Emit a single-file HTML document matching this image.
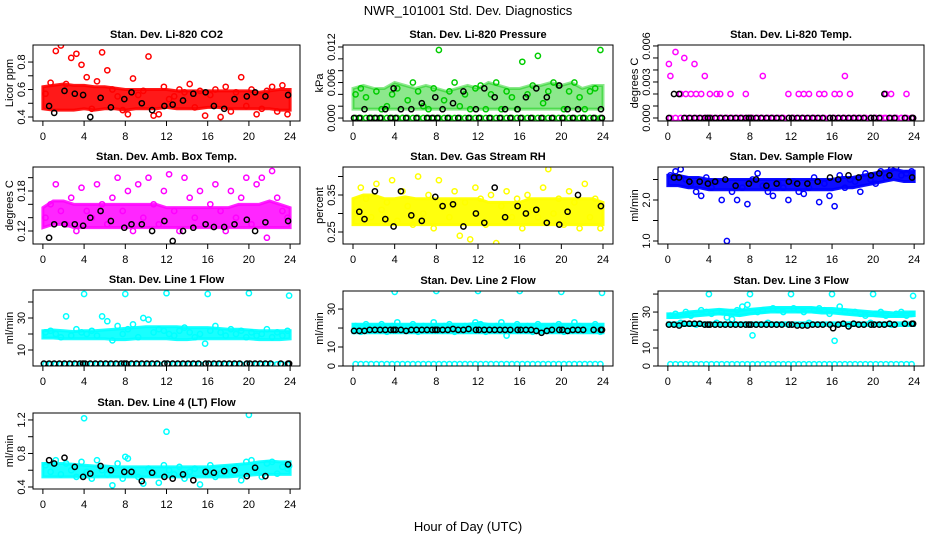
<!DOCTYPE html>
<html><head><meta charset="utf-8"><style>
html,body{margin:0;padding:0;background:#fff}
svg{display:block}
text{font-family:"Liberation Sans",sans-serif;fill:#000}
</style></head><body>
<svg id="chart" width="936" height="540" viewBox="0 0 936 540" xmlns="http://www.w3.org/2000/svg">
<rect x="0" y="0" width="936" height="540" fill="#fff"/>
<text x="468" y="15" font-size="13" text-anchor="middle">NWR_101001  Std. Dev. Diagnostics</text>
<text x="468" y="531" font-size="13" text-anchor="middle">Hour of Day (UTC)</text>
</svg>
<script>
// ---- shared hours ----
const bandHours = [0,1,2,3,4,5,6,7,8,9,10,11,12,13,14,15,16,17,18,19,20,21,22,23,24];
const colorHours = [0.25,0.75,1.25,1.75,2.25,2.75,3.25,3.75,4.25,4.75,5.25,5.75,6.25,6.75,7.25,7.75,8.25,8.75,9.25,9.75,10.25,10.75,11.25,11.75,12.25,12.75,13.25,13.75,14.25,14.75,15.25,15.75,16.25,16.75,17.25,17.75,18.25,18.75,19.25,19.75,20.25,20.75,21.25,21.75,22.25,22.75,23.25,23.75];
const blackHours = [0.6,1.1,2.1,3.1,3.9,4.6,5.6,6.6,7.9,8.6,9.6,10.6,11.8,12.6,13.6,14.6,15.8,16.6,17.6,18.6,19.8,20.6,21.6,23.8];
const blackHours2 = [0.1,1.6,2.6,3.6,4.1,5.1,6.1,7.1,7.6,8.1,9.1,10.1,11.1,12.1,13.1,14.1,15.1,16.1,17.1,18.1,19.1,20.1,21.1,22.1,23.1,23.9];
const outlierHours = [4,8,12,16,20,23.9];

// ---- CO2 ----
const co2BandLo = [0.46,0.45,0.45,0.45,0.46,0.45,0.46,0.46,0.45,0.46,0.46,0.46,0.47,0.46,0.46,0.46,0.47,0.47,0.46,0.46,0.46,0.46,0.46,0.45,0.45];
const co2BandHi = [0.62,0.63,0.64,0.63,0.63,0.62,0.62,0.61,0.6,0.6,0.6,0.6,0.6,0.59,0.59,0.59,0.59,0.59,0.59,0.59,0.59,0.58,0.59,0.6,0.6];
const co2Color = [0.57,0.65,0.88,0.92,0.64,0.83,0.86,0.78,0.69,0.46,0.66,0.87,0.74,0.60,0.55,0.45,0.42,0.68,0.56,0.59,0.84,0.41,0.42,0.62,0.53,0.55,0.60,0.58,0.64,0.47,0.59,0.41,0.56,0.60,0.40,0.62,0.44,0.58,0.69,0.48,0.60,0.42,0.46,0.59,0.62,0.44,0.63,0.42];
const co2Black = [0.48,0.43,0.59,0.57,0.56,0.40,0.54,0.47,0.53,0.58,0.50,0.45,0.48,0.49,0.52,0.57,0.58,0.48,0.46,0.53,0.55,0.58,0.55,0.56];

// ---- Pressure ----
const presBandLo = [0.0015,0.0015,0.0015,0.0015,0.0015,0.0015,0.0015,0.0015,0.0015,0.0015,0.0015,0.0015,0.0015,0.0015,0.0015,0.0015,0.0015,0.0015,0.0015,0.0015,0.0015,0.0015,0.0015,0.0015,0.0015];
const presBandHi = [0.005,0.0055,0.005,0.005,0.006,0.0055,0.005,0.0055,0.005,0.0045,0.005,0.0055,0.005,0.006,0.0055,0.005,0.005,0.0055,0.0055,0.006,0.0055,0.006,0.005,0.0055,0.0055];
const presColor = [0.004,0.005,0.0035,0,0.0045,0.0015,0.002,0.004,0.005,0,0.003,0.006,0.0045,0.002,0.0015,0.005,0.0115,0.003,0.0045,0.006,0.002,0.004,0.0015,0.005,0.0055,0.0015,0.004,0.006,0.0015,0.0045,0.0035,0.0015,0.0095,0.004,0.0055,0.0105,0.0025,0.0045,0.006,0.0055,0.0015,0.0045,0.006,0.0035,0.0015,0.0045,0.005,0.0115];
const presZero = [0,0,0,0,0,0,0,0,0,0,0,0,0,0,0,0,0,0,0,0,0,0,0,0,0,0,0,0,0,0,0,0,0,0,0,0,0,0,0,0,0,0,0,0,0,0,0,0];
const presBlack = [0,0.0015,0,0.0015,0.005,0.0015,0.0015,0.0025,0.0035,0.0015,0.0025,0.0045,0.0015,0.005,0.0035,0.0015,0.0015,0.0035,0.005,0.0035,0.0055,0.0015,0.0015,0.0015];
const presBlackZero = [0,0,0,0,0,0,0,0,0,0,0,0,0,0,0,0,0,0,0,0,0,0,0,0,0,0];

// ---- Li-820 Temp ----
const tempColor = [0.0035,0.0055,0.002,0.002,0.002,0.002,0.002,0,0,0.002,0,0,0,0,0,0,0,0,0.0035,0,0,0,0,0.002,0,0.002,0.002,0.002,0,0.002,0.002,0,0.002,0.002,0.0035,0.002,0,0,0,0,0,0,0.002,0.002,0,0,0.002,0];
const tempColor2 = [0.0045,0.005,0.0045,0.0035,0.002,0.002,0.002,0,0.002,0,0,0,0,0,0,0,0,0,0,0,0,0,0,0,0,0,0,0,0,0,0.002,0,0.002,0.002,0.002,0,0,0,0,0,0,0,0.002,0,0,0.002,0,0];
const tempZero = [0,0,0,0,0,0,0,0,0,0,0,0,0,0,0,0,0,0,0,0,0,0,0,0,0,0,0,0,0,0,0,0,0,0,0,0,0,0,0,0,0,0,0,0,0,0,0,0];
const tempBlack = [0.002,0.002,0,0,0,0,0,0,0,0,0,0,0,0,0,0,0,0,0,0,0,0,0,0];
const tempBlackZero = [0,0,0,0,0,0,0,0,0,0,0,0,0,0,0,0,0,0,0,0,0,0,0.002,0,0,0];

// ---- Amb Box Temp ----
const ambBandLo = [0.125,0.13,0.13,0.125,0.125,0.125,0.125,0.125,0.125,0.125,0.125,0.125,0.125,0.125,0.125,0.125,0.125,0.125,0.125,0.125,0.125,0.125,0.125,0.125,0.125];
const ambBandHi = [0.155,0.165,0.165,0.16,0.16,0.16,0.16,0.16,0.16,0.16,0.16,0.16,0.155,0.155,0.155,0.155,0.155,0.155,0.155,0.16,0.16,0.16,0.165,0.16,0.155];
const ambColor = [0.14,0.16,0.19,0.15,0.13,0.17,0.12,0.185,0.15,0.14,0.19,0.16,0.13,0.17,0.2,0.15,0.18,0.12,0.19,0.14,0.2,0.16,0.13,0.18,0.205,0.15,0.12,0.2,0.17,0.14,0.18,0.13,0.16,0.19,0.15,0.12,0.18,0.14,0.17,0.2,0.13,0.19,0.2,0.11,0.21,0.17,0.15,0.14];
const ambBlack = [0.11,0.13,0.13,0.13,0.128,0.14,0.15,0.135,0.125,0.13,0.13,0.12,0.135,0.105,0.12,0.125,0.13,0.126,0.126,0.13,0.137,0.12,0.133,0.135];

// ---- Gas Stream RH ----
const rhBandLo = [0.27,0.27,0.27,0.27,0.27,0.27,0.27,0.27,0.27,0.27,0.27,0.27,0.27,0.27,0.27,0.27,0.27,0.27,0.27,0.27,0.27,0.27,0.27,0.27,0.27];
const rhBandHi = [0.34,0.35,0.35,0.34,0.34,0.345,0.34,0.34,0.34,0.34,0.34,0.34,0.34,0.33,0.33,0.33,0.33,0.34,0.34,0.34,0.34,0.34,0.34,0.34,0.33];
const rhColor = [0.3,0.37,0.34,0.29,0.38,0.31,0.33,0.39,0.28,0.36,0.32,0.27,0.4,0.3,0.35,0.26,0.39,0.33,0.29,0.36,0.24,0.33,0.23,0.37,0.34,0.27,0.35,0.22,0.32,0.36,0.29,0.34,0.26,0.35,0.31,0.29,0.37,0.42,0.3,0.34,0.27,0.36,0.33,0.26,0.38,0.29,0.34,0.26];
const rhBlack = [0.305,0.285,0.36,0.285,0.265,0.36,0.295,0.28,0.345,0.32,0.325,0.265,0.3,0.275,0.37,0.29,0.32,0.3,0.31,0.275,0.27,0.305,0.35,0.32];

// ---- Sample Flow ----
const sfBandLo = [2.35,2.35,2.3,2.3,2.25,2.25,2.25,2.25,2.25,2.25,2.25,2.25,2.25,2.25,2.25,2.25,2.25,2.3,2.3,2.35,2.4,2.45,2.5,2.45,2.45];
const sfBandHi = [2.6,2.6,2.55,2.55,2.5,2.5,2.5,2.5,2.5,2.5,2.5,2.5,2.5,2.5,2.5,2.5,2.5,2.55,2.55,2.6,2.65,2.7,2.75,2.7,2.7];
const sfColor = [2.6,2.7,2.75,2.5,2.4,2.2,2.1,2.55,2.3,2.45,2.0,1.0,2.2,2.0,2.3,1.9,2.5,2.65,2.35,2.2,2.1,2.4,2.3,2.0,2.45,2.2,2.15,2.3,2.55,1.95,2.4,2.1,1.85,2.6,2.3,2.5,2.45,2.2,2.65,2.5,2.4,2.7,2.55,2.75,2.8,2.6,2.65,2.7];
const sfBlack = [2.55,2.55,2.45,2.45,2.4,2.45,2.5,2.35,2.4,2.5,2.35,2.4,2.45,2.4,2.4,2.45,2.55,2.5,2.6,2.55,2.6,2.65,2.6,2.55];

// ---- Line 1 Flow ----
const l1BandLo = [17.5,17.5,17,17,17,17,17,16.5,16.5,17,17,17,17,16.5,16.5,17,17,17,17,17,17,16.5,16.5,16.5,17];
const l1BandHi = [22,22.5,22,21.5,22,22,22.5,23,23.5,24,24.5,24.5,24.5,24.5,24,24,24,23.5,23,23,22.5,22,22,22,22];
const l1Color = [21,22,20,18,31,19,23,21,20,22,19,31,28,16,25,20,23,26,18,30,29,21,23,22,20,19,22,24,21,18,20,14,22,25,21,19,23,20,22,18,21,19,20,23,18,21,19,22];
const l1Low = [1,1,1,1,1,1,1,1,1,1,1,1,1,1,1,1,1,1,1,1,1,1,1,1,1,1,1,1,1,1,1,1,1,1,1,1,1,1,1,1,1,1,1,1,1,1,1,1];
const l1Out = [45,45,45.5,45,45.5,44];
const l1Black = [1.5,1.5,1.5,1.5,1.5,1.5,1.5,1.5,1.5,1.5,1.5,1.5,1.5,1.5,1.5,1.5,1.5,1.5,1.5,1.5,1.5,1.5,1.5,1.5];
const l1Black2 = [1.5,1.5,1.5,1.5,1.5,1.5,1.5,1.5,1.5,1.5,1.5,1.5,1.5,1.5,1.5,1.5,1.5,1.5,1.5,1.5,1.5,1.5,1.5,1.5,1.5,1.5];

// ---- Line 2 Flow ----
const l2BandLo = [17.5,17.5,17.5,17.5,17.5,17.5,17.5,17.5,17.5,17.5,17.5,17.5,17.5,17.5,17.5,17.5,17.5,17.5,17.5,17.5,17.5,17.5,17.5,17.5,17.5];
const l2BandHi = [22,22,22,22,22,22,22,22,22,22,22,22,22.5,22,22,22,22,22,22,22,22,22,22,22,22];
const l2Color = [21,18,22,19,20,22,18,21,23,19,20,22,18,21,20,23,19,21,22,18,20,21,19,23,22,18,20,21,23,16,19,22,20,21,18,22,20,19,21,22,18,20,23,21,19,20,22,18];
const l2Low = [1,1,1,1,1,1,1,1,1,1,1,1,1,1,1,1,1,1,1,1,1,1,1,1,1,1,1,1,1,1,1,1,1,1,1,1,1,1,1,1,1,1,1,1,1,1,1,1];
const l2Out = [39,39.5,39.5,39.5,39,38.5];
const l2Black = [18.5,18.5,19,19,19,19,19,19,19,19,19.5,19,19,19,19,19,19,19,18.5,18.5,19,18.5,19,19];
const l2Black2 = [18.5,19,19,19,19,18.5,19,19,19,19,19,19,19.5,19,19,19,19,19,19,17.5,19,19,19,19,19,19];

// ---- Line 3 Flow ----
const l3BandLo = [27,27,27.5,28,28.5,29,28.5,28,29,29.5,30,30,30,30,30,29.5,29.5,29,28.5,28,28,27.5,27.5,27.5,28];
const l3BandHi = [29,29,30,30.5,31,31.5,31,31,31.5,32,32.5,32.5,32.5,32.5,32.5,32,32,31.5,31,30.5,30,30,29.5,30,30];
const l3MidLo = [22.5,22.5,22.5,22.5,22.5,22.5,22.5,22.5,22.5,22.5,22.5,22.5,22.5,22.5,22.5,22.5,22.5,22.5,22.5,22.5,22.5,22.5,22.5,22.5,22.5];
const l3MidHi = [24,24,24,24,24,24,24,24,24,24,24,24,24,24,24,24,24,24,24,24,24,24,24,24,24];
const l3Color = [28,29,24,30,28,23,31,30,29,24,30,27,26,31,33,34,17,30,31,24,32,31,30,23,32,31,30,24,31,32,31,29,14,33,30,23,30,29,28,24,29,30,28,23,29,30,28,29];
const l3Low = [1,1,1,1,1,1,1,1,1,1,1,1,1,1,1,1,1,1,1,1,1,1,1,1,1,1,1,1,1,1,1,1,1,1,1,1,1,1,1,1,1,1,1,1,1,1,1,1];
const l3Out = [40,40,40,40,40,39];
const l3Black = [23,22.5,23.5,23.5,23,23,23,23,23,23,23,23,23,22.5,22.5,23,23,23,22,23,23,23,23.5,23.5];
const l3Black2 = [23,23.5,23.5,23,23,23,23,23,23,23,23,23,23,23,22.5,23,23,21,23.5,23.5,23,23,23,23,23.5,23.5];

// ---- Line 4 Flow ----
const l4BandLo = [0.52,0.52,0.52,0.52,0.52,0.52,0.52,0.52,0.52,0.52,0.52,0.52,0.52,0.52,0.52,0.52,0.52,0.52,0.52,0.53,0.54,0.55,0.55,0.55,0.55];
const l4BandHi = [0.68,0.68,0.68,0.67,0.66,0.65,0.65,0.64,0.64,0.64,0.64,0.64,0.64,0.64,0.64,0.64,0.64,0.65,0.66,0.67,0.68,0.7,0.71,0.7,0.7];
const l4Color = [0.66,0.58,0.72,0.55,0.68,0.6,0.52,0.7,0.58,0.5,0.72,0.6,0.55,0.42,0.68,0.5,0.74,0.58,0.52,0.44,0.62,0.56,0.45,0.66,0.6,0.55,0.64,0.5,0.58,0.62,0.43,0.6,0.66,0.52,0.56,0.62,0.58,0.64,0.48,0.7,0.72,0.6,0.52,0.68,0.7,0.56,0.64,0.62];
const l4Out = [1.22,0.76,1.06,0.6,1.26,0.65];
const l4Black = [0.72,0.68,0.75,0.64,0.52,0.56,0.65,0.6,0.58,0.58,0.47,0.57,0.52,0.5,0.55,0.48,0.58,0.57,0.59,0.6,0.53,0.63,0.53,0.67];

const GREEN='#00cc00', RED='#ff0000', MAG='#ff00ff', YEL='#ffff00', BLUE='#0000ff', CYAN='#00ffff', BLK='#000000';

const panels = [
 {name:'co2',title:'Stan. Dev. Li-820 CO2',ylab:'Licor ppm',box:[33,45,300,121],ymin:0.371,ymax:0.924,ticks:[0.4,0.5,0.6,0.7,0.8],labels:['0.4','','0.6','','0.8'],
  bands:[[co2BandLo,co2BandHi,RED,0.9]],series:[[colorHours,co2Color,RED],[blackHours,co2Black,BLK]]},
 {name:'pressure',title:'Stan. Dev. Li-820 Pressure',ylab:'kPa',box:[343,45,613,121],ymin:-0.0005,ymax:0.01234,ticks:[0,0.002,0.004,0.006,0.008,0.010,0.012],labels:['0.000','','','0.006','','','0.012'],
  bands:[[presBandLo,presBandHi,GREEN,0.45]],series:[[colorHours,presZero,GREEN],[colorHours,presColor,GREEN],[blackHours2,presBlackZero,BLK],[blackHours,presBlack,BLK]]},
 {name:'licor-temp',title:'Stan. Dev. Li-820 Temp.',ylab:'degrees C',box:[658,45,924,121],ymin:-0.00025,ymax:0.00608,ticks:[0,0.001,0.002,0.003,0.004,0.005,0.006],labels:['0.000','','','0.003','','','0.006'],
  bands:[],series:[[colorHours,tempZero,MAG],[colorHours,tempColor,MAG],[blackHours2,tempColor2,MAG],[blackHours2,tempBlackZero,BLK],[blackHours,tempBlack,BLK]]},
 {name:'amb-box-temp',title:'Stan. Dev. Amb. Box Temp.',ylab:'degrees C',box:[33,167,300,244],ymin:0.1005,ymax:0.216,ticks:[0.12,0.14,0.16,0.18,0.20],labels:['0.12','','','0.18',''],
  bands:[[ambBandLo,ambBandHi,MAG,0.85]],series:[[colorHours,ambColor,MAG],[blackHours,ambBlack,BLK]]},
 {name:'gas-stream-rh',title:'Stan. Dev. Gas Stream RH',ylab:'percent',box:[343,167,613,244],ymin:0.2176,ymax:0.4257,ticks:[0.25,0.30,0.35,0.40],labels:['0.25','','0.35',''],
  bands:[[rhBandLo,rhBandHi,YEL,0.95]],series:[[colorHours,rhColor,YEL],[blackHours,rhBlack,BLK]]},
 {name:'sample-flow',title:'Stan. Dev. Sample Flow',ylab:'ml/min',box:[658,167,924,244],ymin:0.927,ymax:2.805,ticks:[1.0,1.5,2.0,2.5],labels:['1.0','','2.0',''],
  bands:[[sfBandLo,sfBandHi,BLUE,0.95]],series:[[colorHours,sfColor,BLUE],[blackHours,sfBlack,BLK]]},
 {name:'line1-flow',title:'Stan. Dev. Line 1 Flow',ylab:'ml/min',box:[33,290,300,366],ymin:0,ymax:47.5,ticks:[10,20,30,40],labels:['10','','30',''],
  bands:[[l1BandLo,l1BandHi,CYAN,0.9]],series:[[colorHours,l1Low,CYAN],[colorHours,l1Color,CYAN],[outlierHours,l1Out,CYAN],[blackHours2,l1Black2,BLK],[blackHours,l1Black,BLK]]},
 {name:'line2-flow',title:'Stan. Dev. Line 2 Flow',ylab:'ml/min',box:[343,291,613,366],ymin:0,ymax:39.5,ticks:[0,10,20,30],labels:['0','10','','30'],
  bands:[[l2BandLo,l2BandHi,CYAN,0.95]],series:[[colorHours,l2Low,CYAN],[colorHours,l2Color,CYAN],[outlierHours,l2Out,CYAN],[blackHours2,l2Black2,BLK],[blackHours,l2Black,BLK]]},
 {name:'line3-flow',title:'Stan. Dev. Line 3 Flow',ylab:'ml/min',box:[658,291,924,366],ymin:0,ymax:41.7,ticks:[0,10,20,30,40],labels:['0','10','','30',''],
  bands:[[l3BandLo,l3BandHi,CYAN,0.95],[l3MidLo,l3MidHi,CYAN,0.95]],series:[[colorHours,l3Low,CYAN],[colorHours,l3Color,CYAN],[outlierHours,l3Out,CYAN],[blackHours2,l3Black2,BLK],[blackHours,l3Black,BLK]]},
 {name:'line4-flow',title:'Stan. Dev. Line 4 (LT) Flow',ylab:'ml/min',box:[33,413,300,489],ymin:0.376,ymax:1.283,ticks:[0.4,0.6,0.8,1.0,1.2],labels:['0.4','','0.8','','1.2'],
  bands:[[l4BandLo,l4BandHi,CYAN,0.9]],series:[[colorHours,l4Color,CYAN],[outlierHours,l4Out,CYAN],[blackHours,l4Black,BLK]]}
];

const xTicks = [0,4,8,12,16,20,24];
const XMIN=-0.96, XMAX=24.96;
const svg=document.getElementById('chart');
const NS='http://www.w3.org/2000/svg';
function mk(tag,attrs,parent){const e=document.createElementNS(NS,tag);for(const k in attrs)e.setAttribute(k,attrs[k]);(parent||svg).appendChild(e);return e;}

panels.forEach(p=>{
  const [L,T,R,B]=p.box;
  const xs=v=>L+(v-XMIN)/(XMAX-XMIN)*(R-L);
  const ys=v=>B-(v-p.ymin)/(p.ymax-p.ymin)*(B-T);
  const g=mk('g',{});
  
  
  const clipId='clip-'+p.name;
  const cp=mk('clipPath',{id:clipId},g);
  mk('rect',{x:L,y:T,width:R-L,height:B-T},cp);
  const plot=mk('g',{'clip-path':'url(#'+clipId+')'},g);
  
  
  p.bands.forEach(bd=>{
    const [lo,hi,col,op]=bd;
    let pts=bandHours.map((h,i)=>xs(h)+','+ys(hi[i]));
    pts=pts.concat(bandHours.slice().reverse().map((h,j)=>{const i=bandHours.length-1-j;return xs(h)+','+ys(lo[i]);}));
    const poly=mk('polygon',{points:pts.join(' '),fill:col,'fill-opacity':op,stroke:col,'stroke-width':3,'stroke-opacity':op},plot);
    
    
  });
  p.series.forEach((s,si)=>{
    const [hx,vals,col]=s;
    vals.forEach((v,i)=>{
      const c=mk('circle',{cx:xs(hx[i]).toFixed(1),cy:ys(v).toFixed(1),r:2.6,fill:'none',stroke:col,'stroke-width':1.5},plot);
      
      
    });
  });
  const frame=mk('rect',{x:L,y:T,width:R-L,height:B-T,fill:'none',stroke:'#000','stroke-width':1},g);
  
  
  // x axis
  const xa=mk('g',{},g);
  
  
  mk('line',{x1:xs(xTicks[0]),x2:xs(xTicks[xTicks.length-1]),y1:B,y2:B,stroke:'#000'},xa);
  xTicks.forEach(t=>{
    mk('line',{x1:xs(t),x2:xs(t),y1:B,y2:B+5,stroke:'#000'},xa);
    const tx=mk('text',{x:xs(t),y:B+19,'font-size':11,'text-anchor':'middle'},xa);
    tx.textContent=String(t);
    
    
  });
  // y axis
  const ya=mk('g',{},g);
  
  
  mk('line',{x1:L,x2:L,y1:ys(p.ticks[0]),y2:ys(p.ticks[p.ticks.length-1]),stroke:'#000'},ya);
  p.ticks.forEach((t,i)=>{
    mk('line',{x1:L-5,x2:L,y1:ys(t),y2:ys(t),stroke:'#000'},ya);
    if(p.labels[i]){
      const tx=mk('text',{x:0,y:0,'font-size':11,'text-anchor':'middle',transform:'translate('+(L-8)+','+ys(t)+') rotate(-90)'},ya);
      tx.textContent=p.labels[i];
      
      
    }
  });
  const yl=mk('text',{x:0,y:0,'font-size':11,'text-anchor':'middle',transform:'translate('+(L-20)+','+((T+B)/2)+') rotate(-90)'},g);
  yl.textContent=p.ylab;
  
  
  const ti=mk('text',{x:(L+R)/2,y:T-7,'font-size':11,'font-weight':'bold','text-anchor':'middle'},g);
  ti.textContent=p.title;
  
  
});
</script>
</body></html>
